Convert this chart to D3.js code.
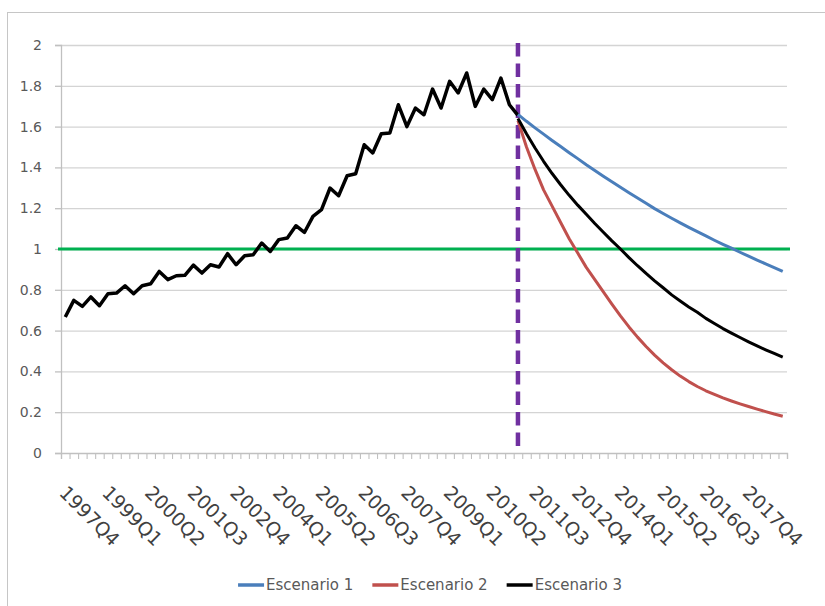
<!DOCTYPE html>
<html>
<head>
<meta charset="UTF-8" />
<script src="https://cdn.jsdelivr.net/npm/d3@7"></script>
<title>Escenarios</title>
<style>
  body { margin: 0; background: #fff; }
  #chart text { font-family: "DejaVu Sans", sans-serif; }
</style>
</head>
<body>
<div id="chart"></div>
<script>
// categorias trimestrales
const quarters = [
  "1997Q4",
  "1998Q1","1998Q2","1998Q3","1998Q4","1999Q1","1999Q2","1999Q3","1999Q4",
  "2000Q1","2000Q2","2000Q3","2000Q4","2001Q1","2001Q2","2001Q3","2001Q4",
  "2002Q1","2002Q2","2002Q3","2002Q4","2003Q1","2003Q2","2003Q3","2003Q4",
  "2004Q1","2004Q2","2004Q3","2004Q4","2005Q1","2005Q2","2005Q3","2005Q4",
  "2006Q1","2006Q2","2006Q3","2006Q4","2007Q1","2007Q2","2007Q3","2007Q4",
  "2008Q1","2008Q2","2008Q3","2008Q4","2009Q1","2009Q2","2009Q3","2009Q4",
  "2010Q1","2010Q2","2010Q3","2010Q4","2011Q1","2011Q2","2011Q3","2011Q4",
  "2012Q1","2012Q2","2012Q3","2012Q4","2013Q1","2013Q2","2013Q3","2013Q4",
  "2014Q1","2014Q2","2014Q3","2014Q4","2015Q1","2015Q2","2015Q3","2015Q4",
  "2016Q1","2016Q2","2016Q3","2016Q4","2017Q1","2017Q2","2017Q3","2017Q4",
  "2018Q1","2018Q2","2018Q3","2018Q4"
];
const tickLabels = ["1997Q4","1999Q1","2000Q2","2001Q3","2002Q4","2004Q1","2005Q2","2006Q3",
  "2007Q4","2009Q1","2010Q2","2011Q3","2012Q4","2014Q1","2015Q2","2016Q3","2017Q4"];
const yTicks = [0, 0.2, 0.4, 0.6, 0.8, 1, 1.2, 1.4, 1.6, 1.8, 2];

// serie historica 1997Q4 - 2011Q1
const historico = [
  0.667, 0.748, 0.719, 0.765, 0.722, 0.781, 0.784, 0.820, 0.781, 0.820,
  0.830, 0.890, 0.850, 0.869, 0.871, 0.921, 0.882, 0.923, 0.912, 0.977,
  0.923, 0.967, 0.972, 1.029, 0.988, 1.046, 1.054, 1.114, 1.081, 1.160,
  1.193, 1.299, 1.261, 1.359, 1.369, 1.511, 1.471, 1.565, 1.569, 1.707,
  1.600, 1.691, 1.658, 1.784, 1.691, 1.822, 1.765, 1.863, 1.699, 1.784,
  1.732, 1.838, 1.707, 1.655
];

// escenarios 2011Q1 - 2018Q4
const inicioEscenarios = "2011Q1";
const escenario1 = [
  1.660, 1.626, 1.594, 1.563, 1.532, 1.502, 1.472, 1.443, 1.413, 1.385,
  1.357, 1.330, 1.303, 1.276, 1.250, 1.224, 1.198, 1.174, 1.151, 1.128,
  1.106, 1.085, 1.064, 1.043, 1.023, 1.004, 0.984, 0.965, 0.946, 0.927,
  0.909, 0.890
];
const escenario2 = [
  1.630, 1.500, 1.390, 1.290, 1.210, 1.130, 1.050, 0.980, 0.910, 0.850,
  0.790, 0.730, 0.672, 0.618, 0.568, 0.522, 0.480, 0.442, 0.408, 0.377,
  0.350, 0.326, 0.305, 0.287, 0.270, 0.255, 0.241, 0.228, 0.215, 0.203,
  0.191, 0.180
];
const escenario3 = [
  1.640, 1.565, 1.495, 1.430, 1.370, 1.315, 1.263, 1.215, 1.170, 1.125,
  1.082, 1.040, 1.000, 0.958, 0.918, 0.880, 0.844, 0.810, 0.775, 0.745,
  0.716, 0.690, 0.660, 0.635, 0.610, 0.588, 0.566, 0.545, 0.525, 0.506,
  0.488, 0.470
];
const umbral = 1;

const seriesNames = ["Escenario 1", "Escenario 2", "Escenario 3"];
const seriesColors = ["#4A7EBB", "#C0504D", "#000000"];

const W = 825, H = 606;
const m = {left: 61, right: 787, top: 45, bottom: 453};

const svg = d3.select("#chart").append("svg")
  .attr("width", W).attr("height", H);

// borde del grafico
svg.append("rect")
  .attr("x", 7.5).attr("y", 12.5).attr("width", 840).attr("height", 640)
  .attr("fill", "#fff").attr("stroke", "#c6c6c6").attr("stroke-width", 1);

const x = d3.scaleBand().domain(quarters).range([m.left, m.right]).padding(0);
const bw = x.bandwidth();
const cx = q => x(q) + bw / 2;
const y = d3.scaleLinear().domain([0, 2]).range([m.bottom, m.top]);

// lineas de cuadricula
svg.append("g")
  .attr("transform", "translate(" + m.left + ",0)")
  .call(d3.axisLeft(y).tickValues(yTicks.slice(1)).tickSize(-(m.right - m.left)).tickFormat(""))
  .call(g => g.select(".domain").remove())
  .call(g => g.selectAll("line").attr("stroke", "#d4d4d4").attr("stroke-width", 1.3));

// eje y
svg.append("g")
  .attr("transform", "translate(" + m.left + ",0)")
  .call(d3.axisLeft(y).tickValues(yTicks).tickSize(6).tickPadding(13).tickFormat(d3.format("")))
  .call(g => g.select(".domain").attr("stroke", "#c0c0c0").attr("stroke-width", 1.3))
  .call(g => g.selectAll("line").attr("stroke", "#c0c0c0").attr("stroke-width", 1.3))
  .call(g => g.selectAll("text").attr("fill", "#595959").attr("font-size", "14px"));

// eje x: marcas entre categorias
const xb = d3.scaleLinear().domain([0, quarters.length]).range([m.left, m.right]);
svg.append("g")
  .attr("transform", "translate(0," + m.bottom + ")")
  .call(d3.axisBottom(xb).tickValues(d3.range(quarters.length + 1)).tickSize(6).tickFormat(""))
  .call(g => g.select(".domain").attr("stroke", "#c0c0c0").attr("stroke-width", 1.3))
  .call(g => g.selectAll("line").attr("stroke", "#c0c0c0").attr("stroke-width", 1.1));

// etiquetas del eje x
svg.append("g")
  .attr("transform", "translate(0," + m.bottom + ")")
  .call(d3.axisBottom(x).tickValues(tickLabels).tickSize(0))
  .call(g => g.select(".domain").remove())
  .call(g => g.selectAll("text")
    .attr("fill", "#404040").attr("font-size", "19px")
    .attr("text-anchor", "start").attr("x", 0).attr("y", 0).attr("dy", 0)
    .attr("transform", "translate(-7,41) rotate(45)"));

// linea de referencia en 1
svg.append("line")
  .attr("x1", m.left - 3).attr("x2", m.right + 3)
  .attr("y1", y(umbral)).attr("y2", y(umbral))
  .attr("stroke", "#00B050").attr("stroke-width", 3);

// linea vertical discontinua
svg.append("line")
  .attr("x1", cx(inicioEscenarios)).attr("x2", cx(inicioEscenarios))
  .attr("y1", y(2) - 2).attr("y2", y(0))
  .attr("stroke", "#7030A0").attr("stroke-width", 4.5)
  .attr("stroke-dasharray", "13.5,7");

const line = d3.line().x(d => cx(d.q)).y(d => y(d.v));

// historico
svg.append("path")
  .datum(historico.map((v, i) => ({q: quarters[i], v})))
  .attr("fill", "none").attr("stroke", "#000").attr("stroke-width", 3.5)
  .attr("stroke-linejoin", "round").attr("d", line);

// escenarios
const start = quarters.indexOf(inicioEscenarios);
[escenario2, escenario3, escenario1].forEach(vals => {
  const k = vals === escenario1 ? 0 : vals === escenario2 ? 1 : 2;
  svg.append("path")
    .datum(vals.map((v, i) => ({q: quarters[start + i], v})))
    .attr("fill", "none").attr("stroke", seriesColors[k]).attr("stroke-width", 3)
    .attr("stroke-linejoin", "round").attr("d", line);
});

// leyenda
const leg = svg.append("g");
let lx = 0;
seriesNames.forEach((name, i) => {
  const g = leg.append("g").attr("transform", "translate(" + lx + ",0)");
  g.append("line").attr("x1", 0).attr("x2", 26).attr("y1", 0).attr("y2", 0)
    .attr("stroke", seriesColors[i]).attr("stroke-width", 3.5);
  const t = g.append("text").attr("x", 28).attr("y", 5)
    .attr("fill", "#595959").attr("font-size", "15px").text(name);
  lx += 28 + t.node().getComputedTextLength() + 19;
});
leg.attr("transform", "translate(" + (430 - (lx - 19) / 2) + ",585)");
</script>
</body>
</html>
